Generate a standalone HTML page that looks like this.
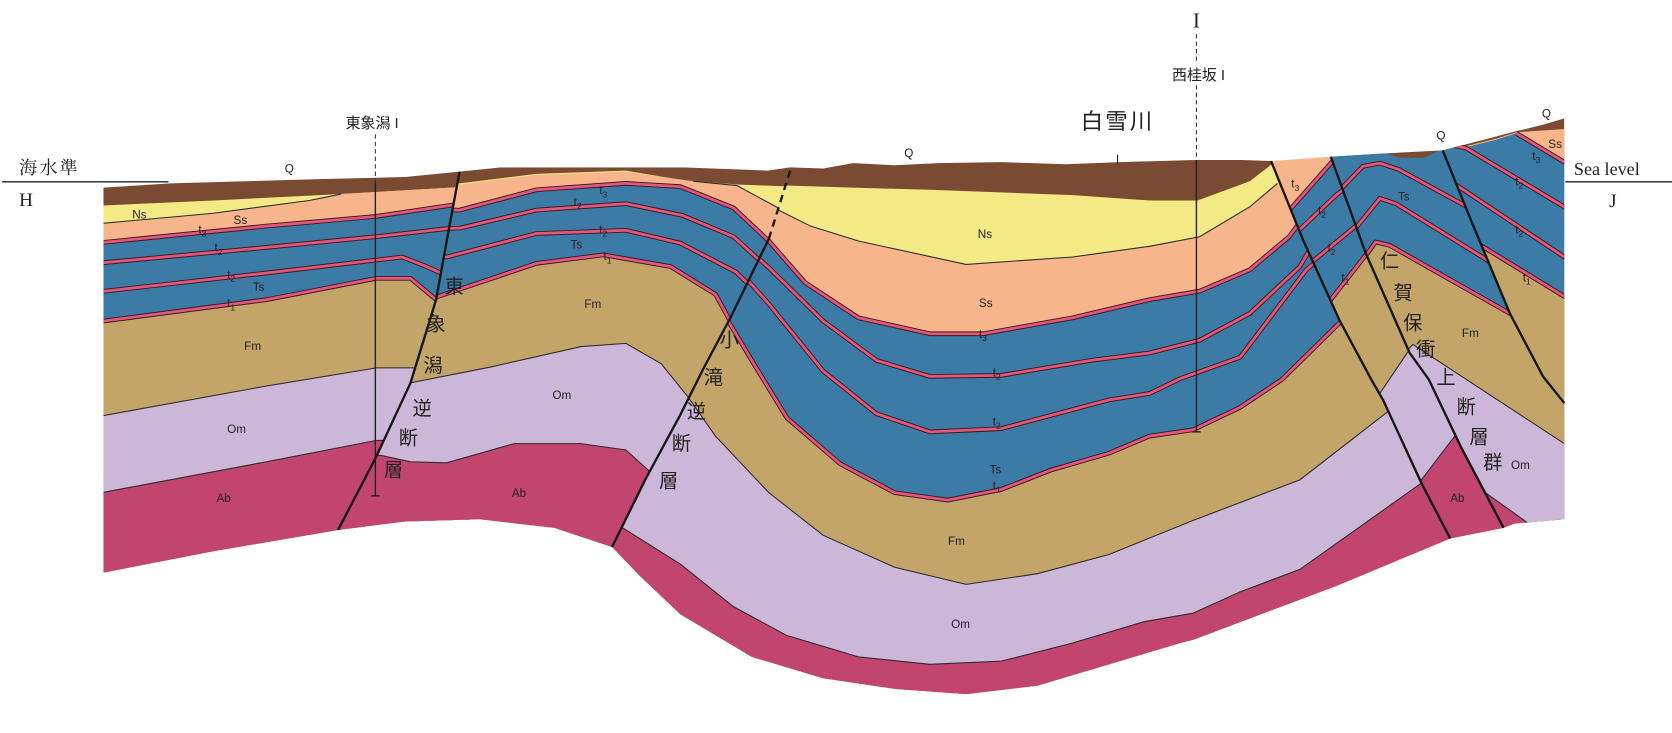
<!DOCTYPE html>
<html><head><meta charset="utf-8"><style>
html,body{margin:0;padding:0;background:#fff;width:1672px;height:733px;overflow:hidden;position:relative;}
svg{display:block;position:absolute;left:0;top:0;}
.l{font-family:"Liberation Sans",sans-serif;font-size:11px;fill:#222;}
.s{font-size:8px;}
.k{font-family:"Liberation Sans","Noto Sans CJK JP",sans-serif;font-size:18px;fill:#222;}
.r{stroke:#3a1a22;stroke-width:4.4;fill:none;}
.p{stroke:#e2577a;stroke-width:2.6;fill:none;}
.b{stroke:#2a2a2a;stroke-width:1;fill:none;}
.f{stroke:#161616;stroke-width:2.2;fill:none;}
</style></head><body>
<svg width="1672" height="733" viewBox="0 0 1568 687.4" preserveAspectRatio="none" xmlns="http://www.w3.org/2000/svg">
<defs>
<clipPath id="cA"><path d="M97,176 L160,172 L230,170 L300,168 L380,166 L431,161 L420,220 L409,281 L385,359 L353,428 L317,497 L200,517 L97,537 Z"/></clipPath>
<clipPath id="cB"><path d="M431,161 L470,157 L540,157 L640,157 L720,160 L741,157 L721,224 L685,298 L660,345 L638,389 L605,450 L574,513 L520,495 L450,487 L380,489 L317,497 L353,428 L385,359 L409,281 L420,220 Z"/></clipPath>
<clipPath id="cC"><path d="M741,157 L772,158 L800,153 L839,155 L880,153 L939,152 L1000,154 L1050,152 L1123,150 L1163,150 L1192,151 L1222,225 L1256,300 L1286,356 L1297,375 L1333,453 L1360,505 L1252,550 L1119,600 L1107,603 L1040,623 L973,643 L906,651 L839,646 L772,636 L705,616 L638,576 L600,540 L574,513 L605,450 L638,389 L660,345 L685,298 L721,224 Z"/></clipPath>
<clipPath id="cD"><path d="M1192,151 L1248,147 L1281,238 L1322,331 L1340,356 L1370,419 L1410,495 L1360,505 L1333,453 L1297,375 L1286,356 L1256,300 L1222,225 Z"/></clipPath>
<clipPath id="cE"><path d="M1248,147 L1297,144 L1353,141 L1378,203 L1416,294 L1447,353 L1467,378 L1467,487 L1420,491 L1410,495 L1370,419 L1340,356 L1322,331 L1281,238 Z"/></clipPath>
<clipPath id="cF"><path d="M1353,141 L1403,128 L1422,123 L1447,117 L1467,111 L1467,378 L1447,353 L1416,294 L1378,203 Z"/></clipPath>
<g id="rA">
<path d="M90,228 L250,212 L352,203 L440,190"/>
<path d="M90,247 L250,232 L352,222 L440,212"/>
<path d="M90,274 L250,256 L377,241 L400,250 L440,268"/>
<path d="M90,302 L250,281 L353,261 L385,261 L409,281 L440,290"/>
</g>
<g id="rB">
<path d="M310,197 L431,197 L503,178 L587,172 L638,175 L688,195 L721,226 L760,260"/>
<path d="M310,215 L431,214 L503,197 L587,191 L640,202 L688,222 L721,252 L772,301"/>
<path d="M310,241 L419,241 L503,219 L587,216 L638,228 L690,255 L721,285 L760,330"/>
<path d="M310,278 L411,278 L503,247 L566,239 L629,250 L671,276 L705,338 L740,392"/>
</g>
<g id="rC">
<path d="M620,165 L688,192 L721,226 L755,265 L805,298 L872,313 L922,313 L1006,298 L1078,281 L1125,273 L1172,253 L1209,222 L1225,200 L1260,150"/>
<path d="M620,195 L688,221 L721,251 L772,301 L822,338 L872,353 L939,352 L1023,338 L1078,331 L1125,319 L1172,294 L1219,250 L1260,180"/>
<path d="M620,222 L688,248 L721,285 L772,348 L822,388 L872,405 L939,402 L1040,375 L1078,369 L1107,355 L1163,335 L1225,253 L1270,215"/>
<path d="M620,250 L671,281 L705,338 L738,392 L788,435 L839,462 L889,469 L939,459 L985,441 L1040,425 L1078,409 L1119,403 L1163,382 L1202,356 L1256,303 L1290,260"/>
</g>
<g id="rD">
<path d="M1180,222 L1212,194 L1248,153 L1260,140"/>
<path d="M1180,245 L1215,219 L1253,183 L1270,170"/>
<path d="M1180,280 L1225,250 L1269,214 L1290,195"/>
<path d="M1180,330 L1248,281 L1281,239 L1300,215"/>
</g>
<g id="rE">
<path d="M1240,200 L1250,185 L1278,156 L1294,153 L1312,159 L1365,188 L1480,250"/>
<path d="M1240,250 L1260,228 L1294,186 L1309,191 L1390,241 L1480,300"/>
<path d="M1240,290 L1270,255 L1290,227 L1303,230 L1416,294 L1480,330"/>
</g>
<g id="rF">
<path d="M1422,125 L1467,152 L1480,160"/>
<path d="M1345,132 L1375,139 L1467,194 L1480,200"/>
<path d="M1345,160 L1365,173 L1467,241 L1480,248"/>
<path d="M1345,205 L1370,220 L1390,231 L1467,278 L1480,285"/>
</g>
</defs>

<g clip-path="url(#cA)">
<rect x="0" y="0" width="1568" height="700" fill="#7b4a32"/>
<path fill="#f3ea86" d="M90,193 L200,188 L300,183 L440,175 L440,800 L90,800Z"/>
<path fill="#f6b58b" d="M90,210 L200,200 L290,188 L320,182 L440,175 L440,800 L90,800Z"/>
<path fill="#3c7ba5" d="M90,228 L250,212 L352,203 L440,190 L440,800 L90,800Z"/>
<path fill="#c3a469" d="M90,302 L250,281 L353,261 L385,261 L409,281 L440,290 L440,800 L90,800Z"/>
<path fill="#cdb7d8" d="M90,391 L250,362 L353,345 L440,345 L440,800 L90,800Z"/>
<path fill="#c2456f" d="M90,463 L250,433 L353,413 L440,413 L440,800 L90,800Z"/>
<path class="b" d="M90,210 L200,200 L290,188 L320,182"/>
<path class="b" d="M90,391 L250,362 L353,345 L440,345"/>
<path class="b" d="M90,463 L250,433 L353,413 L440,413"/>
<use href="#rA" class="r"/><use href="#rA" class="p"/>
</g>

<g clip-path="url(#cB)">
<rect x="0" y="0" width="1568" height="700" fill="#7b4a32"/>
<path fill="#f3ea86" d="M310,172 L431,172 L503,163 L587,160 L640,169 L691,173 L745,175 L745,800 L310,800Z"/>
<path fill="#f6b58b" d="M310,173 L431,173 L503,164 L587,161 L650,170 L691,174 L728,194 L750,205 L750,800 L310,800Z"/>
<path fill="#3c7ba5" d="M310,197 L431,197 L503,178 L587,172 L638,175 L688,195 L721,226 L760,260 L760,800 L310,800Z"/>
<path fill="#c3a469" d="M310,278 L411,278 L503,247 L566,239 L629,250 L671,276 L705,338 L740,392 L740,800 L310,800Z"/>
<path fill="#cdb7d8" d="M310,359 L385,359 L461,344 L545,325 L587,322 L620,341 L645,372 L671,409 L700,440 L740,470 L740,800 L310,800Z"/>
<path fill="#c2456f" d="M310,427 L357,427 L385,433 L419,434 L482,416 L545,416 L587,422 L608,441 L630,470 L660,520 L740,560 L740,800 L310,800Z"/>
<path class="b" d="M650,170 L691,174 L728,194 L750,205"/>
<path class="b" d="M310,359 L385,359 L461,344 L545,325 L587,322 L620,341 L645,372 L671,409 L700,440 L740,470"/>
<path class="b" d="M310,427 L357,427 L385,433 L419,434 L482,416 L545,416 L587,422 L608,441 L630,470 L660,520"/>
<use href="#rB" class="r"/><use href="#rB" class="p"/>
</g>

<g clip-path="url(#cC)">
<rect x="0" y="0" width="1568" height="700" fill="#7b4a32"/>
<path fill="#f3ea86" d="M560,170 L738,174 L800,176 L872,178 L1006,183 L1078,188 L1123,188 L1172,170 L1194,153 L1230,150 L1230,800 L560,800Z"/>
<path fill="#f6b58b" d="M560,175 L728,196 L760,212 L805,226 L906,248 L1006,241 L1078,231 L1125,222 L1172,194 L1198,172 L1230,160 L1230,800 L560,800Z"/>
<path fill="#3c7ba5" d="M560,150 L620,165 L688,192 L721,226 L755,265 L805,298 L872,313 L922,313 L1006,298 L1078,281 L1125,273 L1172,253 L1209,222 L1225,200 L1260,150 L1380,100 L1380,800 L560,800Z"/>
<path fill="#c3a469" d="M560,150 L620,250 L671,281 L705,338 L738,392 L788,435 L839,462 L889,469 L939,459 L985,441 L1040,425 L1078,409 L1119,403 L1163,382 L1202,356 L1256,303 L1290,260 L1380,150 L1380,800 L560,800Z"/>
<path fill="#cdb7d8" d="M560,330 L638,362 L671,409 L721,462 L772,502 L839,532 L906,548 L973,538 L1040,520 L1119,488 L1219,450 L1299,388 L1380,330 L1380,800 L560,800Z"/>
<path fill="#c2456f" d="M560,480 L638,529 L688,569 L738,596 L805,616 L872,623 L939,620 L1006,603 L1073,583 L1119,575 L1163,555 L1219,534 L1333,453 L1380,420 L1380,800 L560,800Z"/>
<path class="b" d="M728,196 L760,212 L805,226 L906,248 L1006,241 L1078,231 L1125,222 L1172,194 L1198,172"/>
<path class="b" d="M560,330 L638,362 L671,409 L721,462 L772,502 L839,532 L906,548 L973,538 L1040,520 L1119,488 L1219,450 L1299,388 L1380,330"/>
<path class="b" d="M560,480 L638,529 L688,569 L738,596 L805,616 L872,623 L939,620 L1006,603 L1073,583 L1119,575 L1163,555 L1219,534 L1333,453 L1380,420"/>
<use href="#rC" class="r"/><use href="#rC" class="p"/>
</g>

<g clip-path="url(#cD)">
<rect x="0" y="0" width="1568" height="700" fill="#f6b58b"/>
<path fill="#3c7ba5" d="M1180,222 L1212,194 L1248,153 L1260,140 L1420,100 L1420,800 L1180,800Z"/>
<path fill="#c3a469" d="M1180,330 L1248,281 L1281,239 L1300,215 L1420,180 L1420,800 L1180,800Z"/>
<path fill="#cdb7d8" d="M1180,420 L1294,369 L1325,323 L1340,300 L1420,290 L1420,800 L1180,800Z"/>
<path fill="#c2456f" d="M1180,520 L1333,450 L1365,408 L1380,390 L1420,370 L1420,800 L1180,800Z"/>
<path class="b" d="M1180,420 L1294,369 L1325,323 L1340,300"/>
<path class="b" d="M1180,520 L1333,450 L1365,408 L1380,390"/>
<use href="#rD" class="r"/><use href="#rD" class="p"/>
</g>

<g clip-path="url(#cE)">
<rect x="0" y="0" width="1568" height="700" fill="#7b4a32"/>
<path fill="#3c7ba5" d="M1240,140 L1297,143 L1312,148 L1335,148 L1353,140 L1470,100 L1470,800 L1240,800Z"/>
<path fill="#c3a469" d="M1240,290 L1270,255 L1290,227 L1303,230 L1416,294 L1480,330 L1480,800 L1240,800Z"/>
<path fill="#cdb7d8" d="M1240,420 L1300,350 L1325,323 L1467,416 L1480,425 L1480,800 L1240,800Z"/>
<path fill="#c2456f" d="M1330,420 L1370,445 L1393,462 L1435,492 L1480,520 L1480,800 L1330,800Z"/>
<path class="b" d="M1240,420 L1300,350 L1325,323 L1467,416 L1480,425"/>
<path class="b" d="M1370,445 L1393,462 L1435,492"/>
<use href="#rE" class="r"/><use href="#rE" class="p"/>
</g>

<g clip-path="url(#cF)">
<rect x="0" y="0" width="1568" height="700" fill="#7b4a32"/>
<path fill="#f6b58b" d="M1345,130 L1375,137 L1403,130 L1422,124 L1467,121 L1480,121 L1480,800 L1345,800Z"/>
<path fill="#3c7ba5" d="M1345,131 L1375,138 L1403,131 L1422,125 L1467,152 L1480,160 L1480,800 L1345,800Z"/>
<path fill="#c3a469" d="M1345,205 L1370,220 L1390,231 L1467,278 L1480,285 L1480,800 L1345,800Z"/>
<use href="#rF" class="r"/><use href="#rF" class="p"/>
</g>

<path class="f" d="M431,161 L420,220 L409,281 L385,359 L353,428 L317,497"/>
<path class="f" d="M741,160 L721,224" stroke-dasharray="7,5"/>
<path class="f" d="M721,224 L685,298 L660,345 L638,389 L605,450 L574,513"/>
<path class="f" d="M1192,151 L1222,225 L1256,300 L1286,356 L1297,375 L1333,453 L1360,505"/>
<path class="f" d="M1248,147 L1281,238 L1322,331 L1340,356 L1370,419 L1410,495"/>
<path class="f" d="M1353,141 L1378,203 L1416,294 L1447,353 L1467,378"/>

<line x1="2" y1="170.5" x2="158" y2="170.5" stroke="#222" stroke-width="1.2"/>
<line x1="1468" y1="170.5" x2="1568" y2="170.5" stroke="#222" stroke-width="1.2"/>
<text x="18" y="163" style="font-family:'Liberation Serif','Noto Serif CJK SC',serif;font-size:17px;letter-spacing:2px" fill="#222">海水準</text>
<text x="18" y="193" style="font-family:'Liberation Serif',serif;font-size:18px" fill="#222">H</text>
<text x="1476" y="164" style="font-family:'Liberation Serif',serif;font-size:17px" fill="#222">Sea level</text>
<text x="1509" y="194" style="font-family:'Liberation Serif',serif;font-size:18px" fill="#222">J</text>

<line x1="352" y1="126" x2="352" y2="170" stroke="#333" stroke-width="1" stroke-dasharray="4,3"/>
<line x1="352" y1="170" x2="352" y2="465" stroke="#222" stroke-width="1.3"/>
<line x1="348" y1="465" x2="356" y2="465" stroke="#222" stroke-width="1.3"/>
<text x="349" y="120" text-anchor="middle" style="font-family:'Liberation Sans','Noto Sans CJK JP',sans-serif;font-size:14px" fill="#222">東象潟 I</text>
<line x1="1122" y1="32" x2="1122" y2="58" stroke="#333" stroke-width="1" stroke-dasharray="4,3"/>
<line x1="1122" y1="80" x2="1122" y2="150" stroke="#333" stroke-width="1" stroke-dasharray="4,3"/>
<line x1="1122" y1="150" x2="1122" y2="405" stroke="#222" stroke-width="1.3"/>
<line x1="1118" y1="405" x2="1126" y2="405" stroke="#222" stroke-width="1.3"/>
<text x="1122" y="26" text-anchor="middle" style="font-family:'Liberation Serif',serif;font-size:20px" fill="#222">I</text>
<text x="1124" y="75" text-anchor="middle" style="font-family:'Liberation Sans','Noto Sans CJK JP',sans-serif;font-size:14px" fill="#222">西桂坂 I</text>
<text x="1048" y="121" text-anchor="middle" style="font-family:'Liberation Sans','Noto Sans CJK JP',sans-serif;font-size:21px;letter-spacing:2px" fill="#222">白雪川</text>
<line x1="1048" y1="145" x2="1048" y2="154" stroke="#222" stroke-width="1"/>

<g class="l">
<text x="267" y="162">Q</text>
<text x="848" y="147">Q</text>
<text x="1347" y="131">Q</text>
<text x="1446" y="110">Q</text>
<text x="124" y="205">Ns</text>
<text x="219" y="210">Ss</text>
<text x="186" y="219">t<tspan class="s" dy="3">3</tspan></text>
<text x="201" y="236">t<tspan class="s" dy="3">2</tspan></text>
<text x="213" y="261">t<tspan class="s" dy="3">2</tspan></text>
<text x="237" y="273">Ts</text>
<text x="213" y="288">t<tspan class="s" dy="3">1</tspan></text>
<text x="229" y="328">Fm</text>
<text x="213" y="406">Om</text>
<text x="203" y="471">Ab</text>
<text x="562" y="182">t<tspan class="s" dy="3">3</tspan></text>
<text x="538" y="193">t<tspan class="s" dy="3">2</tspan></text>
<text x="562" y="219">t<tspan class="s" dy="3">2</tspan></text>
<text x="535" y="233">Ts</text>
<text x="566" y="244">t<tspan class="s" dy="3">1</tspan></text>
<text x="548" y="289">Fm</text>
<text x="518" y="374">Om</text>
<text x="480" y="466">Ab</text>
<text x="917" y="223">Ns</text>
<text x="918" y="288">Ss</text>
<text x="918" y="317">t<tspan class="s" dy="3">3</tspan></text>
<text x="931" y="353">t<tspan class="s" dy="3">2</tspan></text>
<text x="931" y="399">t<tspan class="s" dy="3">2</tspan></text>
<text x="928" y="444">Ts</text>
<text x="931" y="459">t<tspan class="s" dy="3">1</tspan></text>
<text x="889" y="511">Fm</text>
<text x="892" y="589">Om</text>
<text x="1211" y="176">t<tspan class="s" dy="3">3</tspan></text>
<text x="1236" y="201">t<tspan class="s" dy="3">2</tspan></text>
<text x="1245" y="236">t<tspan class="s" dy="3">2</tspan></text>
<text x="1258" y="264">t<tspan class="s" dy="3">1</tspan></text>
<text x="1311" y="188">Ts</text>
<text x="1452" y="139">Ss</text>
<text x="1437" y="150">t<tspan class="s" dy="3">3</tspan></text>
<text x="1421" y="174">t<tspan class="s" dy="3">2</tspan></text>
<text x="1421" y="219">t<tspan class="s" dy="3">2</tspan></text>
<text x="1428" y="264">t<tspan class="s" dy="3">1</tspan></text>
<text x="1371" y="316">Fm</text>
<text x="1417" y="440">Om</text>
<text x="1360" y="471">Ab</text>
</g>

<g class="k" text-anchor="middle">
<text x="426" y="275">東</text>
<text x="409" y="310">象</text>
<text x="406" y="349">潟</text>
<text x="396" y="389">逆</text>
<text x="383" y="417">断</text>
<text x="369" y="447">層</text>
<text x="684" y="325">小</text>
<text x="669" y="360">滝</text>
<text x="653" y="392">逆</text>
<text x="639" y="422">断</text>
<text x="627" y="457">層</text>
<text x="1303" y="251">仁</text>
<text x="1316" y="281">賀</text>
<text x="1325" y="309">保</text>
<text x="1337" y="334">衝</text>
<text x="1356" y="360">上</text>
<text x="1375" y="388">断</text>
<text x="1387" y="416">層</text>
<text x="1400" y="440">群</text>
</g>
</svg>
</body></html>
